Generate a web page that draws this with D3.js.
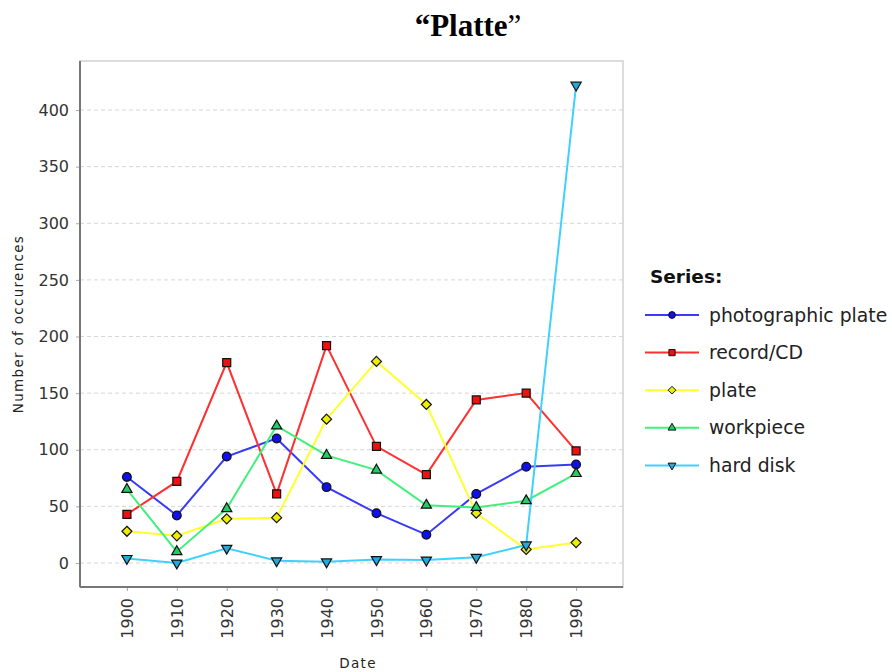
<!DOCTYPE html>
<html><head><meta charset="utf-8">
<script src="https://cdn.jsdelivr.net/npm/d3@7"></script>
<style>body{margin:0;background:#fff}svg{display:block}</style>
</head><body>
<svg id="c" width="892" height="672"></svg>
<script>
const categories = ["1900","1910","1920","1930","1940","1950","1960","1970","1980","1990"];
const photographicPlate = [76, 42, 94, 110, 67, 44, 25, 61, 85, 87];
const recordCD = [43, 72, 177, 61, 192, 103, 78, 144, 150, 99];
const plate = [28, 24, 39, 40, 127, 178, 140, 44, 12, 18];
const workpiece = [65, 10, 48, 121, 95, 82, 51, 49, 55, 79];
const hardDisk = [4, 0, 13, 2, 1, 3, 2.6, 5, 16, 422];
const seriesNames = ["photographic plate","record/CD","plate","workpiece","hard disk"];
const yTicks = [0,50,100,150,200,250,300,350,400];

const series = [
  {name: seriesNames[0], values: photographicPlate, line: "#3a3af5", fill: "#1010ee", shape: "circle"},
  {name: seriesNames[1], values: recordCD, line: "#ff3030", fill: "#ee1111", shape: "square"},
  {name: seriesNames[2], values: plate, line: "#ffff30", fill: "#eeee00", shape: "diamond"},
  {name: seriesNames[3], values: workpiece, line: "#40f07a", fill: "#22cc66", shape: "triangleUp"},
  {name: seriesNames[4], values: hardDisk, line: "#40d0ff", fill: "#22aadd", shape: "triangleDown"}
];

const FONT = "DejaVu Sans, Verdana, sans-serif";
const svg = d3.select("#c");
const L = 80, R = 623, T = 61, B = 587;
const x = d3.scalePoint().domain(categories).range([L, R]).padding(0.94);
const y = d3.scaleLinear().domain([-21.2, 443.3]).range([B, T]);

// title
const title = svg.append("text").attr("x", 468).attr("y", 36).attr("text-anchor", "middle")
  .style("font-family", "Liberation Serif, Times New Roman, serif").style("font-size", "31px");
title.append("tspan").style("font-weight", "bold").text("\u201CPlatte");
title.append("tspan").text("\u201D");

// plot background + border
svg.append("rect").attr("x", L).attr("y", T).attr("width", R - L).attr("height", B - T)
  .attr("fill", "#fff").attr("stroke", "#dcdcdc").attr("stroke-width", 2);

// gridlines
svg.append("g").selectAll("line").data(yTicks).join("line")
  .attr("x1", L).attr("x2", R).attr("y1", d => y(d)).attr("y2", d => y(d))
  .attr("stroke", "#d6d6d6").attr("stroke-dasharray", "4,3").attr("stroke-width", 1);

// y axis
const yAxis = svg.append("g").attr("transform", `translate(${L},0)`)
  .call(d3.axisLeft(y).tickValues(yTicks).tickSize(4).tickPadding(7));
yAxis.select(".domain").remove();
yAxis.selectAll(".tick line").attr("stroke", "#aaa");
yAxis.selectAll("text").style("font-family", FONT).style("font-size", "16px").attr("fill", "#333");

// x axis
const xAxis = svg.append("g").attr("transform", `translate(0,${B})`)
  .call(d3.axisBottom(x).tickSize(4).tickPadding(6));
xAxis.select(".domain").remove();
xAxis.selectAll(".tick line").attr("stroke", "#aaa");
xAxis.selectAll("text").style("font-family", FONT).style("font-size", "16px").attr("fill", "#333")
  .attr("text-anchor", "end").attr("transform", "rotate(-90)").attr("x", -11).attr("y", 0).attr("dy", "0.35em");

// axis lines
svg.append("line").attr("x1", L).attr("x2", L).attr("y1", T).attr("y2", B).attr("stroke", "#777").attr("stroke-width", 2);
svg.append("line").attr("x1", L).attr("x2", R).attr("y1", B).attr("y2", B).attr("stroke", "#777").attr("stroke-width", 2);

// axis labels
svg.append("text").attr("transform", `translate(23,${(T + B) / 2}) rotate(-90)`).attr("text-anchor", "middle")
  .style("font-family", FONT).style("font-size", "13.5px").style("letter-spacing", "1.3px")
  .attr("fill", "#222").text("Number of occurences");
svg.append("text").attr("x", 358).attr("y", 668).attr("text-anchor", "middle")
  .style("font-family", FONT).style("font-size", "13.5px").style("letter-spacing", "1.3px")
  .attr("fill", "#222").text("Date");

const diamond = { draw(ctx, size) { const r = Math.sqrt(size / 2); ctx.moveTo(0, -r); ctx.lineTo(r, 0); ctx.lineTo(0, r); ctx.lineTo(-r, 0); ctx.closePath(); } };
const typeFor = s => ({circle: d3.symbolCircle, square: d3.symbolSquare, diamond: diamond,
  triangleUp: d3.symbolTriangle, triangleDown: d3.symbolTriangle})[s];
const sizeFor = s => ({circle: 60, square: 64, diamond: 50, triangleUp: 45, triangleDown: 45})[s];

const line = d3.line().x((d, i) => x(categories[i])).y(d => y(d));
series.forEach(s => {
  svg.append("path").datum(s.values).attr("d", line).attr("fill", "none")
    .attr("stroke", s.line).attr("stroke-width", 2);
});
series.forEach(s => {
  svg.append("g").selectAll("path").data(s.values).join("path")
    .attr("d", d3.symbol().type(typeFor(s.shape)).size(sizeFor(s.shape))())
    .attr("transform", (d, i) => `translate(${x(categories[i])},${y(d)})${s.shape === "triangleDown" ? " rotate(180)" : ""}`)
    .attr("fill", s.fill).attr("stroke", "#111").attr("stroke-width", 1.2);
});

// legend
const lg = svg.append("g");
lg.append("text").attr("x", 650).attr("y", 283).style("font-family", FONT)
  .style("font-size", "18.5px").style("font-weight", "bold").attr("fill", "#111").text("Series:");
series.forEach((s, i) => {
  const cy = 315 + i * 37.6;
  lg.append("line").attr("x1", 645).attr("x2", 699).attr("y1", cy).attr("y2", cy).attr("stroke", s.line).attr("stroke-width", 2);
  lg.append("path").attr("d", d3.symbol().type(typeFor(s.shape)).size(sizeFor(s.shape) * 0.6)())
    .attr("transform", `translate(672,${cy})${s.shape === "triangleDown" ? " rotate(180)" : ""}`)
    .attr("fill", s.fill).attr("stroke", "#111").attr("stroke-width", 1);
  lg.append("text").attr("x", 709).attr("y", cy).attr("dy", "0.35em")
    .style("font-family", FONT).style("font-size", "18.8px").attr("fill", "#222").text(s.name);
});
</script>
</body></html>
